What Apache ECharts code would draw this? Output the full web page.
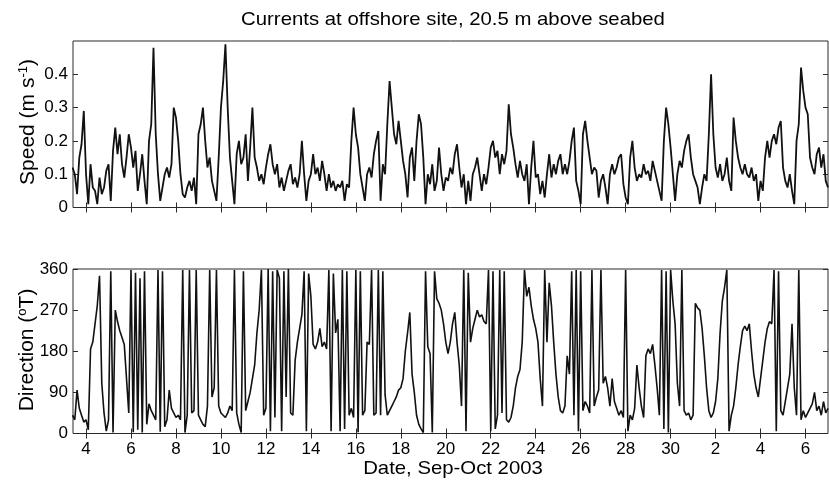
<!DOCTYPE html>
<html>
<head>
<meta charset="utf-8">
<script src="https://cdn.jsdelivr.net/npm/echarts@6/dist/echarts.min.js"></script>
<style>
  html, body { margin: 0; padding: 0; background: #fff; }
  #chart { width: 829px; height: 486px; }
</style>
</head>
<body>
<div id="chart"></div>
<script>
// Time base: day of September (October days continue as 31, 32, ...)
const startDay = 3.4;
const stepDays = 0.1;

// Current speed, m/s, one value per time step
const speed = [
  0.12,0.10,0.04,0.15,0.19,0.29,0.10,0.01,0.13,0.06,
  0.05,0.01,0.09,0.04,0.06,0.11,0.13,0.02,0.17,0.24,
  0.16,0.22,0.13,0.09,0.15,0.22,0.18,0.12,0.17,0.05,
  0.10,0.16,0.08,0.01,0.20,0.25,0.48,0.22,0.10,0.02,
  0.06,0.10,0.12,0.09,0.13,0.30,0.27,0.20,0.10,0.04,
  0.03,0.06,0.08,0.05,0.09,0.01,0.22,0.25,0.30,0.20,
  0.12,0.15,0.08,0.05,0.02,0.15,0.30,0.38,0.49,0.30,
  0.15,0.08,0.01,0.16,0.20,0.13,0.15,0.22,0.08,0.18,
  0.30,0.15,0.12,0.08,0.10,0.07,0.12,0.16,0.19,0.13,
  0.10,0.13,0.06,0.09,0.05,0.08,0.11,0.13,0.07,0.09,
  0.06,0.10,0.20,0.10,0.02,0.08,0.10,0.16,0.10,0.12,
  0.08,0.14,0.10,0.05,0.10,0.06,0.08,0.05,0.07,0.06,
  0.08,0.02,0.07,0.06,0.20,0.30,0.22,0.18,0.10,0.06,
  0.02,0.10,0.12,0.09,0.16,0.20,0.23,0.02,0.13,0.10,
  0.25,0.38,0.30,0.22,0.19,0.26,0.20,0.14,0.10,0.03,
  0.15,0.18,0.08,0.20,0.28,0.25,0.15,0.01,0.10,0.07,
  0.13,0.05,0.08,0.18,0.10,0.05,0.09,0.08,0.12,0.10,
  0.16,0.19,0.12,0.06,0.10,0.01,0.08,0.02,0.10,0.12,
  0.15,0.10,0.05,0.10,0.07,0.12,0.18,0.20,0.15,0.17,
  0.10,0.16,0.13,0.17,0.31,0.22,0.18,0.13,0.09,0.14,
  0.10,0.08,0.13,0.01,0.12,0.20,0.09,0.10,0.04,0.08,
  0.03,0.10,0.16,0.09,0.13,0.10,0.14,0.16,0.10,0.13,
  0.10,0.14,0.20,0.24,0.08,0.05,0.01,0.22,0.26,0.20,
  0.15,0.10,0.12,0.11,0.03,0.08,0.10,0.06,0.01,0.10,
  0.13,0.10,0.12,0.15,0.16,0.07,0.03,0.01,0.15,0.20,
  0.12,0.08,0.10,0.09,0.13,0.10,0.11,0.08,0.14,0.11,
  0.08,0.05,0.02,0.20,0.30,0.25,0.18,0.10,0.02,0.10,
  0.14,0.12,0.17,0.20,0.22,0.15,0.10,0.08,0.06,0.01,
  0.06,0.10,0.08,0.22,0.40,0.22,0.12,0.09,0.13,0.08,
  0.10,0.15,0.08,0.05,0.27,0.20,0.15,0.12,0.10,0.13,
  0.10,0.09,0.12,0.08,0.10,0.02,0.08,0.05,0.15,0.20,
  0.15,0.20,0.22,0.19,0.24,0.26,0.12,0.08,0.06,0.10,
  0.05,0.01,0.20,0.25,0.42,0.35,0.30,0.28,0.15,0.12,
  0.10,0.16,0.18,0.12,0.16,0.08,0.06
];

// Current direction, degrees true, one value per time step
const direction = [
  40,30,95,55,40,25,30,8,185,200,
  240,280,345,110,45,5,30,355,2,270,
  245,225,210,195,120,45,358,3,352,8,
  340,2,355,20,65,50,40,30,358,4,
  355,15,30,95,55,45,35,40,30,358,
  2,40,358,45,50,358,40,30,20,15,
  60,358,80,100,358,60,45,40,35,45,
  60,50,358,45,20,2,355,50,70,90,
  120,150,220,270,358,40,55,360,5,355,
  35,358,340,5,355,80,360,45,40,160,
  200,230,260,355,5,350,300,195,185,200,
  230,190,200,185,358,5,350,220,250,5,
  358,10,355,40,55,35,358,3,355,40,
  50,200,195,358,40,45,358,40,355,85,
  40,50,60,70,80,95,100,120,180,220,
  265,130,90,40,20,10,2,355,190,175,
  2,355,295,285,270,240,200,175,200,240,
  265,200,150,60,358,5,352,200,230,250,
  270,255,260,245,240,358,5,355,10,40,
  358,45,355,30,25,35,60,100,125,140,
  200,358,300,320,280,250,230,200,120,60,
  358,200,330,280,200,130,80,50,45,60,
  170,130,355,40,358,5,355,50,70,60,
  45,358,60,80,95,358,110,125,100,60,
  120,70,55,40,50,35,358,5,40,30,
  55,150,100,60,35,170,185,175,195,150,
  100,40,358,10,355,2,358,290,240,110,
  60,358,50,40,45,30,40,285,275,270,
  230,170,100,50,35,45,70,120,220,290,
  320,358,5,40,60,100,150,190,225,235,
  225,240,180,130,100,80,120,160,200,230,
  245,240,358,5,355,50,40,70,100,130,
  240,100,40,358,30,50,35,45,55,65,
  90,50,60,40,70,45,55
];

// Axis tick positions
const dayTicks = [4, 6, 8, 10, 12, 14, 16, 18, 20, 22, 24, 26, 28, 30, 32, 34, 36];
const speedTicks = [0, 0.1, 0.2, 0.3, 0.4];
const directionTicks = [0, 90, 180, 270, 360];

const dayMin = 3.42;
const dayMax = 37.0;

const FONT = '"Liberation Sans", Arial, Helvetica, sans-serif';
const INK = '#111';
const FRAME = '#2a2a2a';

const speedData = speed.map((v, i) => [startDay + i * stepDays, v]);
const directionData = direction.map((v, i) => [startDay + i * stepDays, v]);

function dayLabel(v) {
  return String(v > 30 ? v - 30 : v);
}

function xAxisFor(grid, position, withLabels) {
  return {
    type: 'value',
    gridIndex: grid,
    position: position,
    min: dayMin,
    max: dayMax,
    axisLine: { show: false },
    splitLine: { show: false },
    axisTick: {
      show: true, inside: true, length: 5,
      customValues: dayTicks,
      lineStyle: { color: FRAME, width: 1 }
    },
    axisLabel: withLabels ? {
      show: true,
      customValues: dayTicks,
      formatter: dayLabel,
      color: '#000',
      fontFamily: FONT,
      fontSize: 17,
      margin: 7
    } : { show: false }
  };
}

function yAxisFor(grid, position, min, max, ticks, labelFmt) {
  return {
    type: 'value',
    gridIndex: grid,
    position: position,
    min: min,
    max: max,
    axisLine: { show: false },
    splitLine: { show: false },
    axisTick: {
      show: true, inside: true, length: 5,
      customValues: ticks,
      lineStyle: { color: FRAME, width: 1 }
    },
    axisLabel: labelFmt ? {
      show: true,
      customValues: ticks,
      formatter: labelFmt,
      color: '#000',
      fontFamily: FONT,
      fontSize: 17,
      margin: 5
    } : { show: false }
  };
}

// Rotated axis titles with a raised exponent / degree sign
const nameRich = {
  t: { fontFamily: FONT, fontSize: 21, fill: '#000' },
  sup: { fontFamily: FONT, fontSize: 13, fill: '#000', verticalAlign: 'top', padding: [0, 0, 10, 0] }
};

function verticalName(text, x, y) {
  return {
    type: 'text',
    x: x, y: y,
    rotation: Math.PI / 2,
    style: {
      x: 0, y: 0,
      text: text,
      rich: nameRich,
      align: 'center',
      verticalAlign: 'middle',
      fill: '#000'
    }
  };
}

const chart = echarts.init(document.getElementById('chart'), null, { renderer: 'canvas' });

chart.setOption({
  animation: false,
  backgroundColor: '#fff',
  graphic: [
    {
      type: 'text',
      x: 453, y: 20,
      scaleX: 1.1,
      style: {
        x: 0, y: 0,
        text: 'Currents at offshore site, 20.5 m above seabed',
        align: 'center',
        verticalAlign: 'middle',
        fontFamily: FONT,
        fontSize: 18.5,
        fill: '#000'
      }
    },
    {
      type: 'text',
      x: 453, y: 469,
      scaleX: 1.07,
      style: {
        x: 0, y: 0,
        text: 'Date, Sep-Oct 2003',
        align: 'center',
        verticalAlign: 'middle',
        fontFamily: FONT,
        fontSize: 19,
        fill: '#000'
      }
    },
    verticalName('{t|Speed (m s}{sup|-1}{t|)}', 28, 122),
    verticalName('{t|Direction (}{sup|o}{t|T)}', 27, 350)
  ],
  grid: [
    { left: 73, top: 41, width: 755, height: 166.5, show: true, borderColor: FRAME, borderWidth: 1, backgroundColor: 'transparent' },
    { left: 73, top: 269, width: 755, height: 164.5, show: true, borderColor: FRAME, borderWidth: 1, backgroundColor: 'transparent' }
  ],
  xAxis: [
    xAxisFor(0, 'bottom', false),
    xAxisFor(0, 'top', false),
    xAxisFor(1, 'bottom', true),
    xAxisFor(1, 'top', false)
  ],
  yAxis: [
    yAxisFor(0, 'left', 0, 0.5, speedTicks, v => (v === 0 ? '0' : v.toFixed(1))),
    yAxisFor(0, 'right', 0, 0.5, speedTicks, null),
    yAxisFor(1, 'left', 0, 360, directionTicks, v => String(v)),
    yAxisFor(1, 'right', 0, 360, directionTicks, null)
  ],
  series: [
    {
      type: 'line',
      xAxisIndex: 0, yAxisIndex: 0,
      data: speedData,
      showSymbol: false,
      lineStyle: { color: INK, width: 1.8 },
      clip: true
    },
    {
      type: 'line',
      xAxisIndex: 2, yAxisIndex: 2,
      data: directionData,
      showSymbol: false,
      lineStyle: { color: INK, width: 1.6 },
      clip: true
    }
  ]
});
</script>
</body>
</html>
